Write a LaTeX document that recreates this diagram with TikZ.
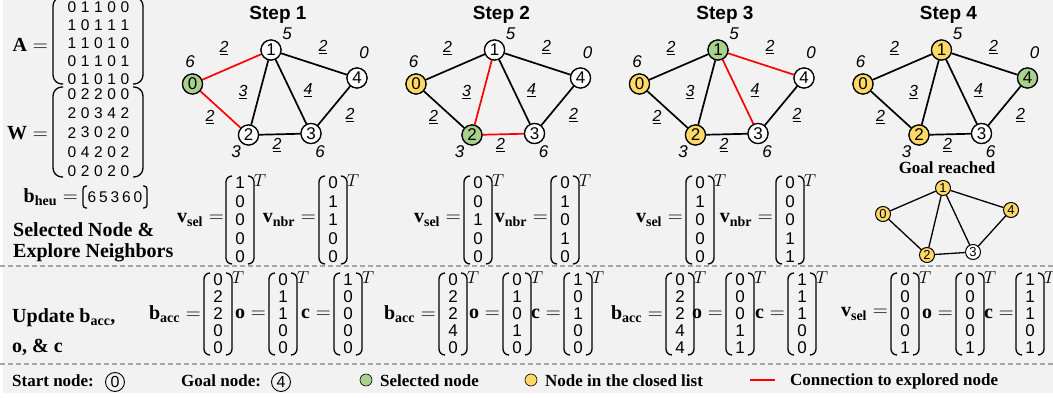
\documentclass[tikz,border=0pt]{standalone}
\usepackage{fontspec}
\setmainfont{Liberation Serif}
\setsansfont{Liberation Sans}
\usetikzlibrary{calc}
\definecolor{bg}{HTML}{F2F2F2}
\definecolor{gn}{HTML}{A9D18E}
\definecolor{yl}{HTML}{FFD966}
\definecolor{sepc}{HTML}{A6A6A6}
\newcommand{\fsz}[1]{\fontsize{#1}{#1}\selectfont}

\tikzset{
  gnode/.style={circle,draw,line width=1.2pt,fill=white,minimum size=20pt,inner sep=0pt,font=\sffamily\fsz{17}},
  sgnode/.style={circle,draw,line width=1pt,fill=white,minimum size=15pt,inner sep=0pt,font=\sffamily\fsz{13}},
  gedge/.style={line width=1.7pt,black},
  sgedge/.style={line width=1.3pt,black},
  hlab/.style={font=\sffamily\itshape\fsz{17},inner sep=0pt},
  wlab/.style={font=\sffamily\itshape\fsz{16},inner sep=0pt},
  steptitle/.style={font=\sffamily\bfseries\fsz{19},inner sep=0pt},
  vdig/.style={font=\sffamily\fsz{17},inner sep=0pt},
  mdig/.style={font=\sffamily\fsz{15.5},inner sep=0pt},
  brk/.style={line width=1.3pt,rounded corners=6pt},
  pbrk/.style={line width=1.3pt,rounded corners=9pt},
  mlab/.style={font=\fsz{20},inner sep=0pt,anchor=east},
  tsup/.style={font=\fsz{16},inner sep=0pt},
  btxt/.style={font=\bfseries\fsz{20},inner sep=0pt,anchor=west},
  leg/.style={font=\bfseries\fsz{17},inner sep=0pt,anchor=west},
  lcirc/.style={circle,draw,line width=0.9pt,minimum size=19pt,inner sep=0pt,font=\sffamily\fsz{16}},
  ldot/.style={circle,draw,line width=0.6pt,minimum size=12pt,inner sep=0pt},
  sepline/.style={sepc,line width=1.1pt,dash pattern=on 5pt off 3pt},
  n0/.style={},n1/.style={},n2/.style={},n3/.style={},n4/.style={},
  e01/.style={},e02/.style={},e12/.style={},e13/.style={},e14/.style={},e23/.style={},e34/.style={}
}

\newcommand{\graphbody}[1]{%
  \draw[gedge,e01] (#1-0) -- (#1-1);
  \draw[gedge,e02] (#1-0) -- (#1-2);
  \draw[gedge,e12] (#1-1) -- (#1-2);
  \draw[gedge,e13] (#1-1) -- (#1-3);
  \draw[gedge,e14] (#1-1) -- (#1-4);
  \draw[gedge,e23] (#1-2) -- (#1-3);
  \draw[gedge,e34] (#1-3) -- (#1-4);
  \node[hlab] (#1-h0) at (190,62) {6};
  \node[hlab] (#1-h1) at (287,34) {5};
  \node[hlab] (#1-h4) at (364,53) {0};
  \node[hlab] (#1-h2) at (236,152) {3};
  \node[hlab] (#1-h3) at (320,152) {6};
  \node[wlab] (#1-w01) at (224,48) {\underline{2}};
  \node[wlab] (#1-w14) at (323,47) {\underline{2}};
  \node[wlab] (#1-w12) at (243,92) {\underline{3}};
  \node[wlab] (#1-w13) at (308,90) {\underline{4}};
  \node[wlab] (#1-w02) at (210,117) {\underline{2}};
  \node[wlab] (#1-w34) at (350,115) {\underline{2}};
  \node[wlab] (#1-w23) at (277,145) {\underline{2}};
}
\newcommand{\graphnodes}[1]{%
  \node[gnode,n0] (#1-0) at (192.5,84) {0};
  \node[gnode,n1] (#1-1) at (271,50) {1};
  \node[gnode,n2] (#1-2) at (248.5,135) {2};
  \node[gnode,n3] (#1-3) at (311,133.5) {3};
  \node[gnode,n4] (#1-4) at (357,78) {4};
}
% name, cx, cy, spacing, list
\newcommand{\cvec}[5]{%
  \foreach \d [count=\i] in {#5} {\node[vdig] (#1-\i) at (#2,{#3+(\i-3)*#4}) {\d};}
  \pgfmathsetmacro{\hh}{2*#4+7}
  \draw[brk] ({#2-8},{#3-\hh}) -- ({#2-14},{#3-\hh}) -- ({#2-14},{#3+\hh}) -- ({#2-8},{#3+\hh});
  \draw[brk] ({#2+8},{#3-\hh}) -- ({#2+14},{#3-\hh}) -- ({#2+14},{#3+\hh}) -- ({#2+8},{#3+\hh});
  \node[tsup] (#1-T) at ({#2+20},{#3-\hh+5}) {$T$};
}
\newcommand{\bigmat}[4]{%
  \foreach \r [count=\i] in {#4} {%
    \foreach \d [count=\j] in \r {\node[mdig] (#1-\i-\j) at ({72+13.25*(\j-1)},{#2+(\i-1)*#3}) {\d};}
  }
}

\begin{document}
\begin{tikzpicture}[x=1pt,y=-1pt]
\useasboundingbox (0,0) rectangle (1053,398);
\fill[white] (0,0) rectangle (1053,398);
\fill[bg] (3,0) rectangle (1053,393);

% ---------- left: A, W, b_heu ----------
\node[mlab] (Alab) at (48,45) {$\mathbf{A} =$};
\bigmat{A}{7}{18}{{0,1,1,0,0},{1,0,1,1,1},{1,1,0,1,0},{0,1,1,0,1},{0,1,0,1,0}}
\draw[pbrk] (63,-3) -- (53,-3) -- (53,84) -- (63,84);
\draw[pbrk] (133,-3) -- (143,-3) -- (143,84) -- (133,84);
\node[mlab] (Wlab) at (48,133) {$\mathbf{W} =$};
\bigmat{W}{94}{19.3}{{0,2,2,0,0},{2,0,3,4,2},{2,3,0,2,0},{0,4,2,0,2},{0,2,0,2,0}}
\draw[pbrk] (63,87) -- (53,87) -- (53,177) -- (63,177);
\draw[pbrk] (133,87) -- (143,87) -- (143,177) -- (133,177);
\node[mlab] (blab) at (78,197) {$\mathbf{b}_{\mathbf{heu}} =$};
\foreach \d [count=\j] in {6,5,3,6,0} {\node[mdig] (bh-\j) at ({92+11.5*(\j-1)},197) {\d};}
\draw[line width=1.3pt,rounded corners=3pt] (87,186) -- (83,186) -- (83,208) -- (87,208);
\draw[line width=1.3pt,rounded corners=3pt] (143,186) -- (147,186) -- (147,208) -- (143,208);
\node[btxt] (sel1) at (13,230) {Selected Node \&};
\node[btxt] (sel2) at (13,253) {Explore Neighbors};

% ---------- graphs ----------
\begin{scope}[n0/.style={fill=gn},e01/.style={red},e02/.style={red}]
  \node[steptitle] (t1) at (278,15) {Step 1};
  \graphnodes{a}
  \graphbody{a}
\end{scope}
\begin{scope}[shift={(223.5,0)},n0/.style={fill=yl},n2/.style={fill=gn},e12/.style={red},e23/.style={red}]
  \node[steptitle] (t2) at (278,15) {Step 2};
  \graphnodes{b}
  \graphbody{b}
\end{scope}
\begin{scope}[shift={(447,0)},n0/.style={fill=yl},n2/.style={fill=yl},n1/.style={fill=gn},e13/.style={red},e14/.style={red}]
  \node[steptitle] (t3) at (278,15) {Step 3};
  \graphnodes{c}
  \graphbody{c}
\end{scope}
\begin{scope}[shift={(670.5,0)},n0/.style={fill=yl},n1/.style={fill=yl},n2/.style={fill=yl},n4/.style={fill=gn}]
  \node[steptitle] (t4) at (278,15) {Step 4};
  \graphnodes{d}
  \graphbody{d}
\end{scope}
% redraw nodes over edges
\begin{scope}[n0/.style={fill=gn}] \graphnodes{a} \end{scope}
\begin{scope}[shift={(223.5,0)},n0/.style={fill=yl},n2/.style={fill=gn}] \graphnodes{b} \end{scope}
\begin{scope}[shift={(447,0)},n0/.style={fill=yl},n2/.style={fill=yl},n1/.style={fill=gn}] \graphnodes{c} \end{scope}
\begin{scope}[shift={(670.5,0)},n0/.style={fill=yl},n1/.style={fill=yl},n2/.style={fill=yl},n4/.style={fill=gn}] \graphnodes{d} \end{scope}

\node[font=\bfseries\fsz{17},inner sep=0pt] (goal) at (947,168) {Goal reached};
\node[sgnode,fill=yl] (g-0) at (883,214) {0};
\node[sgnode,fill=yl] (g-1) at (943,188) {1};
\node[sgnode,fill=yl] (g-4) at (1011,210) {4};
\node[sgnode,fill=yl] (g-2) at (927,255) {2};
\node[sgnode] (g-3) at (973,252) {3};
\draw[sgedge] (g-0) -- (g-1);
\draw[sgedge] (g-0) -- (g-2);
\draw[sgedge] (g-1) -- (g-2);
\draw[sgedge] (g-1) -- (g-3);
\draw[sgedge] (g-1) -- (g-4);
\draw[sgedge] (g-2) -- (g-3);
\draw[sgedge] (g-3) -- (g-4);

% ---------- row 1 vectors ----------
\node[mlab] (r1a) at (224,220) {$\mathbf{v}_{\mathbf{sel}} =$};
\cvec{v1s}{240}{220}{18.5}{1,0,0,0,0}
\node[mlab] (r1b) at (316,220) {$\mathbf{v}_{\mathbf{nbr}} =$};
\cvec{v1n}{333}{220}{18.5}{0,1,1,0,0}
\node[mlab] (r1c) at (461,220) {$\mathbf{v}_{\mathbf{sel}} =$};
\cvec{v2s}{478}{220}{18.5}{0,0,1,0,0}
\node[mlab] (r1d) at (548,220) {$\mathbf{v}_{\mathbf{nbr}} =$};
\cvec{v2n}{565}{220}{18.5}{0,1,0,1,0}
\node[mlab] (r1e) at (683,220) {$\mathbf{v}_{\mathbf{sel}} =$};
\cvec{v3s}{700}{220}{18.5}{0,1,0,0,0}
\node[mlab] (r1f) at (773,220) {$\mathbf{v}_{\mathbf{nbr}} =$};
\cvec{v3n}{790}{220}{18.5}{0,0,0,1,1}

% ---------- separators ----------
\coordinate (sa1) at (0,266); \coordinate (sa2) at (1053,266);
\coordinate (sb1) at (0,364); \coordinate (sb2) at (1053,364);
\draw[sepline] (sa1) -- (sa2);
\draw[sepline] (sb1) -- (sb2);

% ---------- row 2 ----------
\node[btxt] (up1) at (12,318) {Update $\mathbf{b}_{\mathbf{acc}}$,};
\node[btxt] (up2) at (12,347) {o, \& c};
\node[mlab] (r2a) at (201,314) {$\mathbf{b}_{\mathbf{acc}} =$};
\cvec{b1}{218}{314}{17}{0,2,2,0,0}
\node[mlab] (r2b) at (266,314) {$\mathbf{o} =$};
\cvec{o1}{283}{314}{17}{0,1,1,0,0}
\node[mlab] (r2c) at (331,314) {$\mathbf{c} =$};
\cvec{c1}{348}{314}{17}{1,0,0,0,0}
\node[mlab] (r2d) at (436,314) {$\mathbf{b}_{\mathbf{acc}} =$};
\cvec{b2}{453}{314}{17}{0,2,2,4,0}
\node[mlab] (r2e) at (500,314) {$\mathbf{o} =$};
\cvec{o2}{517}{314}{17}{0,1,0,1,0}
\node[mlab] (r2f) at (561,314) {$\mathbf{c} =$};
\cvec{c2}{578}{314}{17}{1,0,1,0,0}
\node[mlab] (r2g) at (663,314) {$\mathbf{b}_{\mathbf{acc}} =$};
\cvec{b3}{680}{314}{17}{0,2,2,4,4}
\node[mlab] (r2h) at (723,314) {$\mathbf{o} =$};
\cvec{o3}{740}{314}{17}{0,0,0,1,1}
\node[mlab] (r2i) at (785,314) {$\mathbf{c} =$};
\cvec{c3}{802}{314}{17}{1,1,1,0,0}
\node[mlab] (r2j) at (888,314) {$\mathbf{v}_{\mathbf{sel}} =$};
\cvec{v4}{905}{314}{17}{0,0,0,0,1}
\node[mlab] (r2k) at (953,314) {$\mathbf{o} =$};
\cvec{o4}{970}{314}{17}{0,0,0,0,1}
\node[mlab] (r2l) at (1014,314) {$\mathbf{c} =$};
\cvec{c4}{1030}{314}{17}{1,1,1,0,1}

% ---------- legend ----------
\node[leg] (ls) at (12,381) {Start node:};
\node[lcirc] (l0) at (115,382) {0};
\node[leg] (lg) at (181,381) {Goal node:};
\node[lcirc] (l4) at (281,382) {4};
\node[ldot,fill=gn] (lgreen) at (366,380) {};
\node[leg] (lsel) at (380,381) {Selected node};
\node[ldot,fill=yl] (lyel) at (531,380) {};
\node[leg] (lclosed) at (545,381) {Node in the closed list};
\coordinate (lr1) at (750,380); \coordinate (lr2) at (775,380);
\draw[red,line width=2.2pt] (lr1) -- (lr2);
\node[leg] (lconn) at (790,381) {Connection to explored node};
\end{tikzpicture}
\end{document}
